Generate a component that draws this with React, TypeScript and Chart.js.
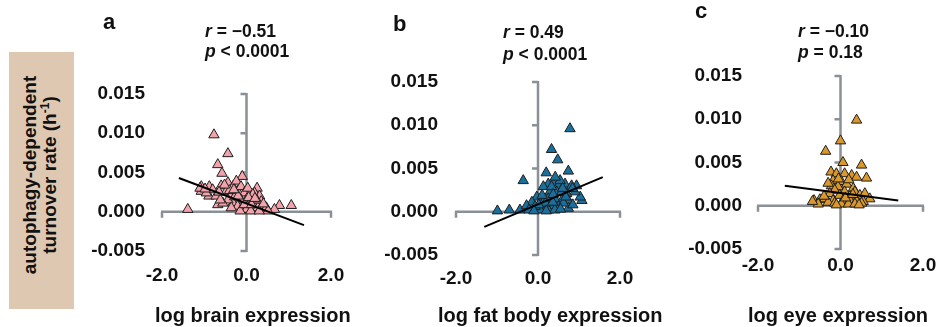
import React, { useEffect, useRef } from "react";
import { Chart, registerables } from "chart.js";
Chart.register(...registerables);

const xTicks = [-2, 0, 2];
const yTicks = [-0.005, 0, 0.005, 0.01, 0.015];

const brainX = [-0.77, -0.44, -0.68, -0.58, -0.10, -1.39, 0.78, 1.06, 0.25, -1.07, -1.07, -0.88, -0.89, -0.60, -0.68, -0.44, -0.32, -0.24, -0.48, -0.36, -0.21, -0.13, -0.05, 0.07, 0.19, 0.31, 0.35, 0.23, 0.11, -0.01, -0.13, -0.24, -0.32, -0.21, -0.09, 0.03, 0.15, 0.27, 0.39, 0.47, 0.00, -0.44, -0.56, -0.80, -0.95, -1.10, -0.28, -0.40, 0.03, 0.15, 0.47, 0.66, 0.51, 0.24, -0.72, -0.15, 0.10, -0.05, 0.05, -0.52, -0.62, 0.12, -0.36, 0.30, -0.20, -0.98, -0.30, 0.20, -0.65, 0.40];
const brainY = [0.0098, 0.0074, 0.0060, 0.0049, 0.0045, 0.0003, 0.0008, 0.0008, 0.0030, 0.0032, 0.0026, 0.0032, 0.0020, 0.0033, 0.0009, 0.0037, 0.0032, 0.0039, 0.0026, 0.0022, 0.0026, 0.0032, 0.0024, 0.0022, 0.0024, 0.0020, 0.0013, 0.0011, 0.0015, 0.0013, 0.0015, 0.0015, 0.0011, 0.0007, 0.0005, 0.0006, 0.0005, 0.0005, 0.0007, 0.0003, 0.0003, 0.0015, 0.0011, 0.0028, 0.0024, 0.0030, 0.0019, 0.0027, 0.0030, 0.0022, 0.0005, 0.0003, 0.0001, 0.0015, 0.0020, 0.0001, 0.0001, 0.0009, 0.0018, 0.0034, 0.0015, 0.0009, 0.0005, 0.0001, 0.0020, 0.0029, 0.0028, 0.0017, 0.0025, 0.0010];
const brainTrendX = [-1.6, 1.36];
const brainTrendY = [0.0043, -0.0017];

const fatX = [0.78, 0.33, 0.48, 0.74, 0.20, -0.36, -0.99, -0.70, -0.44, 1.07, 1.03, 0.90, 0.94, 0.37, 0.25, 0.13, 0.50, 0.66, 0.82, 0.46, 0.29, 0.58, 0.70, 0.74, 0.58, 0.41, 0.25, 0.09, -0.03, -0.15, -0.28, 0.13, 0.29, 0.50, 0.74, 0.62, 0.05, 0.25, 0.41, -0.07, 0.33, 0.54, 0.84, -0.22, 0.18, 0.36, 0.55, 0.68, 0.10, 0.42, 0.60, 0.02, 0.20, 0.85, 0.37, -0.10];
const fatY = [0.0096, 0.0072, 0.0060, 0.0047, 0.0045, 0.0036, 0.0001, 0.0002, 0.0002, 0.0013, 0.0017, 0.0023, 0.0030, 0.0033, 0.0032, 0.0029, 0.0030, 0.0032, 0.0030, 0.0023, 0.0023, 0.0023, 0.0021, 0.0013, 0.0013, 0.0015, 0.0015, 0.0013, 0.0017, 0.0011, 0.0007, 0.0006, 0.0007, 0.0006, 0.0004, 0.0010, 0.0002, 0.0002, 0.0002, 0.0006, 0.0029, 0.0036, 0.0027, 0.0002, 0.0010, 0.0011, 0.0003, 0.0017, 0.0019, 0.0040, 0.0027, 0.0008, 0.0001, 0.0008, 0.0020, 0.0001];
const fatTrendX = [-1.31, 1.58];
const fatTrendY = [-0.00175, 0.0040];

const eyeX = [0.39, 0.00, -0.36, 0.06, 0.51, 0.63, -0.23, -0.10, 0.10, 0.27, 0.39, -0.18, 0.02, 0.15, -0.22, -0.06, 0.31, -0.14, 0.10, 0.35, -0.26, -0.02, 0.23, 0.47, 0.59, 0.71, -0.64, -0.50, -0.38, -0.18, 0.06, 0.23, 0.39, 0.55, -0.30, -0.14, 0.02, 0.19, 0.35, -0.54, 0.51, -0.68, -0.05, 0.20, -0.30, 0.12, -0.10, 0.30, 0.45, -0.40];
const eyeY = [0.0099, 0.0075, 0.0063, 0.0050, 0.0047, 0.0032, 0.0039, 0.0037, 0.0037, 0.0035, 0.0033, 0.0029, 0.0028, 0.0025, 0.0023, 0.0022, 0.0020, 0.0018, 0.0016, 0.0016, 0.0014, 0.0012, 0.0011, 0.0012, 0.0014, 0.0008, 0.0006, 0.0007, 0.0008, 0.0006, 0.0006, 0.0006, 0.0006, 0.0005, 0.0004, 0.0003, 0.0002, 0.0002, 0.0002, 0.0002, 0.0003, 0.0005, 0.0031, 0.0030, 0.0026, 0.0009, 0.0001, 0.0013, 0.0001, 0.0011];
const eyeTrendX = [-1.35, 1.40];
const eyeTrendY = [0.0023, 0.0006];

const FONT = "'Liberation Sans', Arial, Helvetica, sans-serif";
const AXIS_GRAY = "#8a9096";
const H = 327;

const zeroAxes = {
  id: "zeroAxes",
  beforeDatasetsDraw(chart: any) {
    const { ctx, scales } = chart;
    const x = scales.x;
    const y = scales.y;
    const x0 = x.getPixelForValue(0);
    const y0 = y.getPixelForValue(0);
    const yTop = y.getPixelForValue(Math.max(...yTicks));
    const yBot = y.getPixelForValue(Math.min(...yTicks));
    const xL = x.getPixelForValue(Math.min(...xTicks));
    const xR = x.getPixelForValue(Math.max(...xTicks));
    ctx.save();
    ctx.strokeStyle = AXIS_GRAY;
    ctx.lineWidth = 2.5;
    ctx.beginPath();
    ctx.moveTo(x0, yTop - 1);
    ctx.lineTo(x0, yBot + 1);
    yTicks.forEach((v) => {
      const p = y.getPixelForValue(v);
      ctx.moveTo(x0, p);
      ctx.lineTo(x0 - 6, p);
    });
    ctx.moveTo(xL - 1, y0);
    ctx.lineTo(xR + 1, y0);
    xTicks.forEach((v) => {
      const p = x.getPixelForValue(v);
      ctx.moveTo(p, y0);
      ctx.lineTo(p, y0 + 6);
    });
    ctx.stroke();
    ctx.restore();
  },
};

type PanelProps = {
  left: number;
  width: number;
  area: { L: number; R: number; T: number; B: number };
  xPad: number;
  yPad: number;
  color: string;
  xs: number[];
  ys: number[];
  tx: number[];
  ty: number[];
};

function Panel(p: PanelProps) {
  const ref = useRef<HTMLCanvasElement | null>(null);
  useEffect(() => {
    if (!ref.current) return;
    const xh = 40;
    const yw = p.area.L - p.left;
    const chart = new Chart(ref.current, {
      type: "scatter",
      data: {
        datasets: [
          {
            data: p.tx.map((v, i) => ({ x: v, y: p.ty[i] })),
            showLine: true,
            borderColor: "#000",
            borderWidth: 2,
            pointRadius: 0,
            order: 0,
          } as any,
          {
            data: p.xs.map((v, i) => ({ x: v, y: p.ys[i] })),
            pointStyle: "triangle",
            pointRadius: 6,
            backgroundColor: p.color,
            borderColor: "#1e1e1e",
            borderWidth: 1,
            order: 1,
          } as any,
        ],
      },
      options: {
        responsive: false,
        maintainAspectRatio: false,
        animation: false,
        layout: {
          padding: {
            left: 0,
            top: p.area.T,
            right: p.left + p.width - p.area.R,
            bottom: H - p.area.B - xh,
          },
        },
        plugins: { legend: { display: false }, tooltip: { enabled: false } },
        scales: {
          x: {
            type: "linear",
            min: -2,
            max: 2,
            grid: { display: false, drawTicks: false },
            border: { display: false },
            afterBuildTicks: (s: any) => {
              s.ticks = xTicks.map((v) => ({ value: v }));
            },
            afterFit: (s: any) => {
              s.height = xh;
              s.paddingLeft = 0;
              s.paddingRight = 0;
            },
            ticks: {
              padding: p.xPad,
              autoSkip: false,
              maxRotation: 0,
              color: "#111",
              font: { family: FONT, size: 19, weight: "bold" },
              callback: (v: any) => Number(v).toFixed(1),
            },
          },
          y: {
            type: "linear",
            min: -0.005,
            max: 0.015,
            grid: { display: false, drawTicks: false },
            border: { display: false },
            afterBuildTicks: (s: any) => {
              s.ticks = yTicks.map((v) => ({ value: v }));
            },
            afterFit: (s: any) => {
              s.width = yw;
              s.paddingTop = 0;
              s.paddingBottom = 0;
            },
            ticks: {
              padding: p.yPad,
              autoSkip: false,
              color: "#111",
              font: { family: FONT, size: 19, weight: "bold" },
              callback: (v: any) => Number(v).toFixed(3),
            },
          },
        },
      } as any,
      plugins: [zeroAxes],
    });
    return () => chart.destroy();
  }, []);
  return (
    <canvas
      ref={ref}
      width={p.width}
      height={H}
      style={{ position: "absolute", left: p.left, top: 0, width: p.width, height: H }}
    />
  );
}

const txt = (extra: React.CSSProperties): React.CSSProperties => ({
  position: "absolute",
  fontFamily: FONT,
  fontWeight: "bold",
  color: "#111",
  whiteSpace: "nowrap",
  ...extra,
});

export default function App() {
  return (
    <div style={{ position: "fixed", left: 0, top: 0, width: 937, height: 327, background: "#fff", overflow: "hidden" }}>
      <div style={{ position: "absolute", left: 9, top: 52, width: 65, height: 257, background: "#dfc8b2" }} />
      <div
        style={txt({
          left: 40,
          top: 175,
          fontSize: 19,
          lineHeight: "20px",
          textAlign: "center",
          transform: "translate(-50%, -50%) rotate(-90deg)",
        })}
      >
        autophagy-dependent
        <br />
        turnover rate (h<sup style={{ fontSize: 12, lineHeight: 0 }}>-1</sup>)
      </div>

      <Panel left={80} width={275} area={{ L: 162, R: 331, T: 94, B: 251 }} xPad={13} yPad={17} color="#f2a2aa" xs={brainX} ys={brainY} tx={brainTrendX} ty={brainTrendY} />
      <Panel left={370} width={275} area={{ L: 456, R: 620, T: 82, B: 255 }} xPad={12} yPad={18} color="#1b6f9d" xs={fatX} ys={fatY} tx={fatTrendX} ty={fatTrendY} />
      <Panel left={670} width={267} area={{ L: 758, R: 923, T: 76, B: 249 }} xPad={5} yPad={16} color="#d9972c" xs={eyeX} ys={eyeY} tx={eyeTrendX} ty={eyeTrendY} />

      <div style={txt({ left: 103, top: 11, fontSize: 22, lineHeight: "22px" })}>a</div>
      <div style={txt({ left: 393, top: 13, fontSize: 22, lineHeight: "22px" })}>b</div>
      <div style={txt({ left: 695, top: 0, fontSize: 22, lineHeight: "22px" })}>c</div>

      <div style={txt({ left: 205, top: 21, fontSize: 17.5, lineHeight: "20px" })}>
        <i>r</i> = −0.51
        <br />
        <i>p</i> &lt; 0.0001
      </div>
      <div style={txt({ left: 503, top: 21, fontSize: 17.5, lineHeight: "22px" })}>
        <i>r</i> = 0.49
        <br />
        <i>p</i> &lt; 0.0001
      </div>
      <div style={txt({ left: 798, top: 21, fontSize: 17.5, lineHeight: "21px" })}>
        <i>r</i> = −0.10
        <br />
        <i>p</i> = 0.18
      </div>

      <div style={txt({ left: 155, top: 305, fontSize: 20, lineHeight: "20px" })}>log brain expression</div>
      <div style={txt({ left: 438, top: 305, fontSize: 20, lineHeight: "20px" })}>log fat body expression</div>
      <div style={txt({ left: 748, top: 305, fontSize: 20, lineHeight: "20px" })}>log eye expression</div>
    </div>
  );
}
